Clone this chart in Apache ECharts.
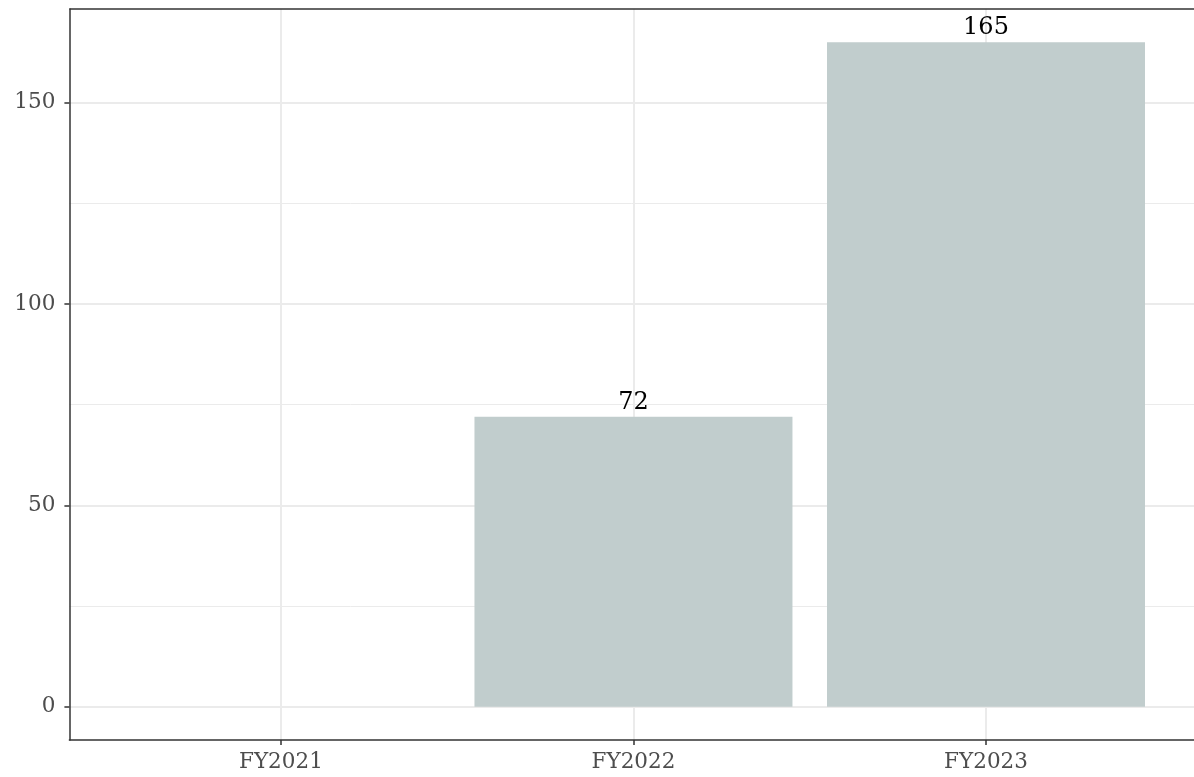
<!DOCTYPE html>
<html>
<head>
<meta charset="utf-8">
<script src="https://cdn.jsdelivr.net/npm/echarts@6/dist/echarts.min.js"></script>
<style>html,body{margin:0;padding:0;background:#fff}#c{width:1194px;height:777px}</style>
</head>
<body>
<div id="c"></div>
<script>
const categories = ['FY2021', 'FY2022', 'FY2023'];
const values = [null, 72, 165];
const yTicks = [0, 50, 100, 150];
const yMinor = [25, 75, 125];

const positions = categories.map((c, i) => i + 1);
const FONT = '"DejaVu Serif", "Liberation Serif", serif';

const chart = echarts.init(document.getElementById('c'));
chart.setOption({
  animation: false,
  backgroundColor: '#ffffff',
  grid: { left: 69.4, right: 0, top: 9, bottom: 37, containLabel: false },
  xAxis: {
    type: 'value', min: 0.4, max: 3.59,
    axisLine: { show: true, onZero: false, lineStyle: { color: '#333333', width: 1.5 } },
    axisTick: { show: true, length: 5, customValues: positions, lineStyle: { color: '#333333', width: 1.5 } },
    axisLabel: { customValues: positions, formatter: v => categories[Math.round(v) - 1] || '',
      color: '#4d4d4d', fontFamily: FONT, fontSize: 21.5, margin: 11 },
    splitLine: { show: true, lineStyle: { color: '#ebebeb', width: 2 } }
  },
  yAxis: [{
    type: 'value', min: -8.25, max: 173.25,
    axisLine: { show: true, lineStyle: { color: '#333333', width: 1.5 } },
    axisTick: { show: true, length: 5, customValues: yTicks, lineStyle: { color: '#333333', width: 1.5 } },
    axisLabel: { customValues: yTicks, color: '#4d4d4d', fontFamily: FONT, fontSize: 21.5, margin: 14 },
    splitLine: { show: true, lineStyle: { color: '#ebebeb', width: 2 } }
  }, {
    type: 'value', min: -8.25, max: 173.25, position: 'left',
    axisLine: { show: false },
    axisTick: { show: false, customValues: yMinor },
    axisLabel: { show: false, customValues: yMinor },
    splitLine: { show: true, lineStyle: { color: '#ebebeb', width: 1 } }
  }],
  series: [{
    type: 'bar',
    yAxisIndex: 0,
    barWidth: 318,
    data: values.map((v, i) => [positions[i], v]),
    itemStyle: { color: '#c1cdcd' },
    label: { show: true, position: 'top', distance: 2, color: '#000000',
      fontFamily: FONT, fontSize: 24,
      formatter: p => p.value[1] == null ? '' : String(p.value[1]) }
  }, {
    type: 'line', data: [], silent: true,
    markLine: { silent: true, symbol: 'none', label: { show: false },
      lineStyle: { color: '#333333', width: 1.5, type: 'solid' },
      data: [{ yAxis: 173.25 }] }
  }]
});
</script>
</body>
</html>
